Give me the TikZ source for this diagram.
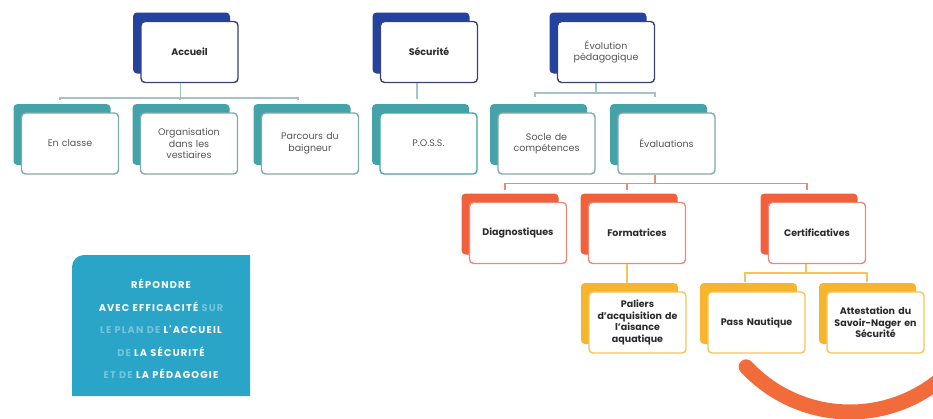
\documentclass[tikz,border=0pt]{standalone}
\usepackage{fontspec}
\setmainfont{Poppins}
\newfontfamily\mottofont{Poppins}[LetterSpace=12.0]
\usetikzlibrary{shadows}

\definecolor{navyback}{HTML}{2443A0}
\definecolor{navyline}{HTML}{3D4070}
\definecolor{tealback}{HTML}{44A3A8}
\definecolor{tealline}{HTML}{7FAAAE}
\definecolor{orangeback}{HTML}{F0603C}
\definecolor{orangeline}{HTML}{EA8B78}
\definecolor{yellowback}{HTML}{F6B52D}
\definecolor{yellowline}{HTML}{F5C45A}
\definecolor{boxblue}{HTML}{2AA5C8}
\definecolor{boxfaded}{HTML}{74C4DD}
\definecolor{arcorange}{HTML}{F26B3A}
\definecolor{darktext}{HTML}{2B2B2B}
\definecolor{greytext}{HTML}{555555}

\tikzset{
  card/.style={draw, line width=1.4pt, fill=white, rounded corners=4pt,
    minimum width=97pt, minimum height=61pt, text width=91pt, inner sep=2pt,
    align=center, font=\fontsize{9.5}{11.5}\selectfont},
  bold card/.style={font=\fontsize{9.5}{11.5}\selectfont\bfseries},
  bluecard/.style={card, draw=navyline, text=darktext,
    general shadow={fill=navyback, shadow xshift=-8pt, shadow yshift=9pt}},
  tealcard/.style={card, draw=tealline, text=greytext,
    general shadow={fill=tealback, shadow xshift=-8pt, shadow yshift=9pt}},
  orangecard/.style={card, bold card, draw=orangeline, text=darktext,
    general shadow={fill=orangeback, shadow xshift=-8pt, shadow yshift=9pt}},
  yellowcard/.style={card, bold card, draw=yellowline, text=darktext,
    general shadow={fill=yellowback, shadow xshift=-8pt, shadow yshift=9pt}},
  tealconn/.style={draw=tealline!70, line width=1.5pt},
  orangeconn/.style={draw=orangeline, line width=1.5pt},
  yellowconn/.style={draw=yellowline, line width=1.5pt},
}

\begin{document}
\begin{tikzpicture}[x=1pt,y=-1pt]
  \useasboundingbox (0,0) rectangle (933,418);
  \clip (0,0) rectangle (933,418);

  % top row
  \node[bluecard,bold card] (acc) at (189.5,52) {Accueil};
  \node[bluecard,bold card] (secu) at (429,52) {Sécurité};
  \node[bluecard,text=greytext] (evol) at (606,52) {Évolution\\pédagogique};

  % second row
  \node[tealcard] (encl) at (70,143.5) {En classe};
  \node[tealcard] (orga) at (189,143.5) {Organisation\\dans les\\vestiaires};
  \node[tealcard] (parc) at (310,143.5) {Parcours du\\baigneur};
  \node[tealcard,draw=tealback] (poss) at (428.5,143.5) {P.O.S.S.};
  \node[tealcard] (socle) at (546.5,143.5) {Socle de\\compétences};
  \node[tealcard] (evals) at (666.5,143.5) {Évaluations};

  % evaluations
  \node[orangecard] (diag) at (518,233) {Diagnostiques};
  \node[orangecard] (form) at (637,233) {Formatrices};
  \node[orangecard] (certif) at (817,233) {Certificatives};

  \node[yellowcard] (pal) at (637.5,322.5) {Paliers\\d'acquisition de\\l'aisance\\aquatique};
  \node[yellowcard] (pass) at (756.5,322.5) {Pass Nautique};
  \node[yellowcard] (attest) at (875.5,322.5) {Attestation du\\Savoir-Nager en\\Sécurité};

  % connectors
  \draw[tealconn] ([xshift=-9pt]acc.south) -- ++(0,15) -| ([shift={(-10pt,12pt)}]encl.north);
  \draw[tealconn] ([xshift=-9pt]acc.south) -- ++(0,15) -| ([shift={(-9pt,12pt)}]orga.north);
  \draw[tealconn] ([xshift=-9pt]acc.south) -- ++(0,15) -| ([shift={(-12pt,12pt)}]parc.north);
  \draw[tealconn] ([xshift=-12pt]secu.south) -- ([shift={(-11.5pt,13pt)}]poss.north);
  \draw[tealconn] ([xshift=-10pt]evol.south) -- ++(0,10) -| ([shift={(-11.5pt,15pt)}]socle.north);
  \draw[tealconn] ([xshift=-10pt]evol.south) -- ++(0,10) -| ([shift={(-11.5pt,15pt)}]evals.north);

  \draw[orangeconn] ([xshift=-11.5pt]evals.south) -- ++(0,9) -| ([shift={(-13pt,12pt)}]diag.north);
  \draw[orangeconn] ([xshift=-11.5pt]evals.south) -- ++(0,9) -| ([shift={(-10pt,12pt)}]form.north);
  \draw[orangeconn] ([xshift=-11.5pt]evals.south) -- ++(0,9) -| ([shift={(-10pt,12pt)}]certif.north);

  \draw[yellowconn] ([xshift=-10pt]form.south) -- ([shift={(-10.5pt,7pt)}]pal.north);
  \draw[yellowconn] ([xshift=-11pt]certif.south) -- ++(0,9) -| ([shift={(-11.5pt,9pt)}]pass.north);
  \draw[yellowconn] ([xshift=-11pt]certif.south) -- ++(0,9) -| ([shift={(-8.5pt,9pt)}]attest.north);

  % motto box
  \fill[boxblue] (72,396) [rounded corners=12pt] -- (72,255) [sharp corners] -- (250,255) -- (250,396) -- cycle;
  \node[text=white, align=center, font=\mottofont\fontsize{9.8}{22.5}\selectfont\bfseries] (motto) at (161,329)
    {RÉPONDRE\\
     AVEC EFFICACITÉ \textcolor{boxfaded}{SUR}\\
     \textcolor{boxfaded}{LE PLAN DE} L'ACCUEIL\\
     \textcolor{boxfaded}{DE} LA SÉCURITÉ\\
     \textcolor{boxfaded}{ET DE} LA PÉDAGOGIE};

  % big arc
  \draw[arcorange, line width=15pt, line cap=round] (850,270) ++(137:142) arc[start angle=137, end angle=25, radius=142];
\end{tikzpicture}
\end{document}
